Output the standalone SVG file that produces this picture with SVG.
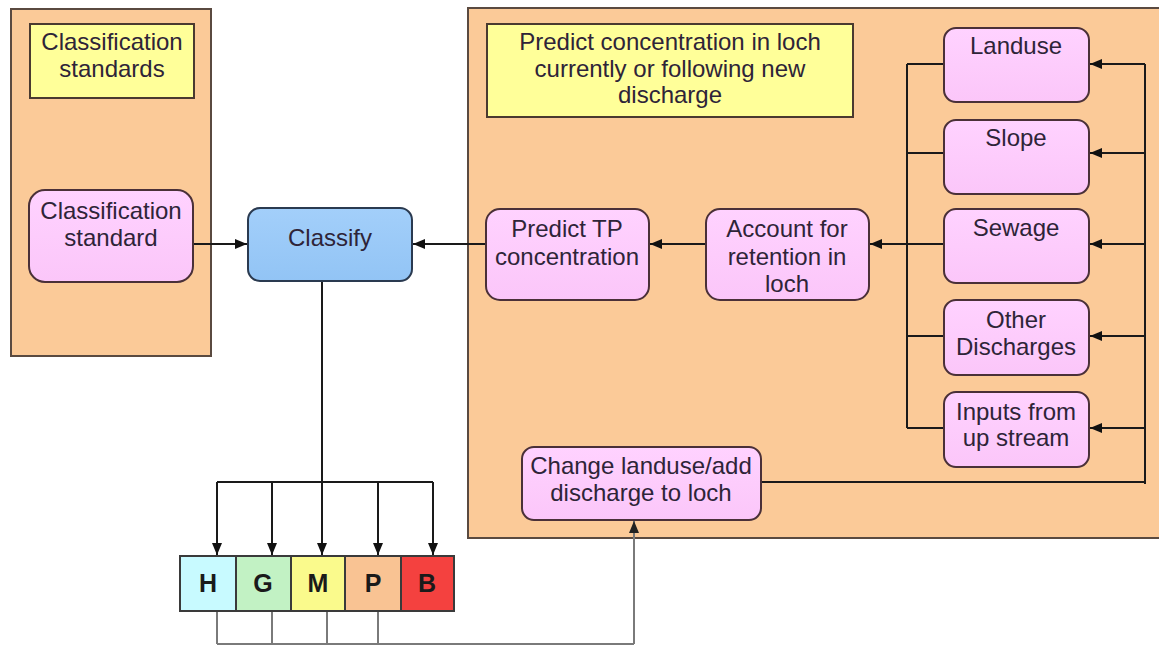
<svg xmlns="http://www.w3.org/2000/svg" width="1159" height="646" viewBox="0 0 1159 646">
<defs>
<style>
.panel{fill:#FBCA98;}
.pborder{fill:none;stroke:#5a4a40;stroke-width:2;}
.note{fill:#FFFF99;stroke:#4a3a30;stroke-width:2;}
.proc{fill:url(#pinkG);stroke:#4a3038;stroke-width:2;}
.cls{fill:url(#blueG);stroke:#2a3a50;stroke-width:2;}
.t{font-family:"Liberation Sans",Arial,sans-serif;font-size:24px;fill:#2e2438;text-anchor:middle;}
.tb{font-family:"Liberation Sans",Arial,sans-serif;font-size:25px;font-weight:bold;fill:#1a1a1a;text-anchor:middle;}
.c{fill:none;stroke:#1a1a1a;stroke-width:2;}
.g{fill:none;stroke:#7a7a7a;stroke-width:2;}
.band{stroke:#3a3a3a;stroke-width:2;}
</style>
<linearGradient id="pinkG" x1="0" y1="0" x2="0" y2="1">
<stop offset="0" stop-color="#FFD2FF"/>
<stop offset="1" stop-color="#FBC6F9"/>
</linearGradient>
<linearGradient id="blueG" x1="0" y1="0" x2="0" y2="1">
<stop offset="0" stop-color="#A3CFFA"/>
<stop offset="1" stop-color="#92C4F5"/>
</linearGradient>
<marker id="ah" viewBox="0 0 12 10" refX="12" refY="5" markerWidth="12" markerHeight="10" markerUnits="userSpaceOnUse" orient="auto">
<path d="M0,0 L12,5 L0,10 z" fill="#111"/>
</marker>
<marker id="ahg" viewBox="0 0 12 10" refX="12" refY="5" markerWidth="12" markerHeight="10" markerUnits="userSpaceOnUse" orient="auto">
<path d="M0,0 L12,5 L0,10 z" fill="#222"/>
</marker>
</defs>
<rect width="1159" height="646" fill="#ffffff"/>

<g id="panel-left">
<rect class="panel" x="11" y="9" width="200" height="347"/>
<rect class="pborder" x="11" y="9" width="200" height="347"/>
</g>
<g id="panel-right">
<rect class="panel" x="468" y="8" width="691" height="530"/>
<path class="pborder" d="M1159,8 H468 V538 H1159"/>
</g>

<g id="connectors">
<line class="c" x1="193" y1="244" x2="247" y2="244" marker-end="url(#ah)"/>
<line class="c" x1="486" y1="244" x2="413" y2="244" marker-end="url(#ah)"/>
<line class="c" x1="706" y1="244" x2="650" y2="244" marker-end="url(#ah)"/>
<path class="c" d="M907,64 V428"/>
<path class="c" d="M907,64 H944 M907,153 H944 M907,244 H944 M907,336 H944 M907,428 H944"/>
<line class="c" x1="907" y1="244" x2="870" y2="244" marker-end="url(#ah)"/>
<path class="c" d="M1145,64 V484"/>
<line class="c" x1="1145" y1="64" x2="1090" y2="64" marker-end="url(#ah)"/>
<line class="c" x1="1145" y1="153" x2="1090" y2="153" marker-end="url(#ah)"/>
<line class="c" x1="1145" y1="244" x2="1090" y2="244" marker-end="url(#ah)"/>
<line class="c" x1="1145" y1="336" x2="1090" y2="336" marker-end="url(#ah)"/>
<line class="c" x1="1145" y1="428" x2="1090" y2="428" marker-end="url(#ah)"/>
<path class="c" d="M761,482 H1145"/>
<path class="c" d="M322,281 V482 M217,482 H433"/>
<line class="c" x1="217" y1="482" x2="217" y2="555" marker-end="url(#ah)"/>
<line class="c" x1="272" y1="482" x2="272" y2="555" marker-end="url(#ah)"/>
<line class="c" x1="322" y1="482" x2="322" y2="555" marker-end="url(#ah)"/>
<line class="c" x1="378" y1="482" x2="378" y2="555" marker-end="url(#ah)"/>
<line class="c" x1="433" y1="482" x2="433" y2="555" marker-end="url(#ah)"/>
<path class="g" d="M217,611 V644 M272,611 V644 M327,611 V644 M378,611 V644 M217,644 H634"/>
<line class="g" x1="634" y1="644" x2="634" y2="521" marker-end="url(#ahg)"/>
</g>

<g id="note-classification-standards">
<rect class="note" x="30" y="24" width="164" height="74"/>
<text class="t" x="112" y="50">Classification</text>
<text class="t" x="112" y="77">standards</text>
</g>
<g id="classification-standard">
<rect class="proc" x="29" y="190" width="164" height="92" rx="16"/>
<text class="t" x="111" y="219">Classification</text>
<text class="t" x="111" y="246">standard</text>
</g>
<g id="classify">
<rect class="cls" x="248" y="208" width="164" height="73" rx="12"/>
<text class="t" x="330" y="246" fill="#1a2a44">Classify</text>
</g>
<g id="note-predict">
<rect class="note" x="487" y="24" width="366" height="93"/>
<text class="t" x="670" y="50">Predict concentration in loch</text>
<text class="t" x="670" y="77">currently or following new</text>
<text class="t" x="670" y="103">discharge</text>
</g>
<g id="predict-tp">
<rect class="proc" x="486" y="209" width="163" height="91" rx="14"/>
<text class="t" x="567" y="237">Predict TP</text>
<text class="t" x="567" y="265">concentration</text>
</g>
<g id="account-retention">
<rect class="proc" x="706" y="209" width="163" height="91" rx="14"/>
<text class="t" x="787" y="237">Account for</text>
<text class="t" x="787" y="265">retention in</text>
<text class="t" x="787" y="292">loch</text>
</g>
<g id="landuse">
<rect class="proc" x="944" y="28" width="145" height="74" rx="12"/>
<text class="t" x="1016" y="54">Landuse</text>
</g>
<g id="slope">
<rect class="proc" x="944" y="120" width="145" height="74" rx="12"/>
<text class="t" x="1016" y="146">Slope</text>
</g>
<g id="sewage">
<rect class="proc" x="944" y="209" width="145" height="74" rx="12"/>
<text class="t" x="1016" y="236">Sewage</text>
</g>
<g id="other-discharges">
<rect class="proc" x="944" y="300" width="145" height="75" rx="12"/>
<text class="t" x="1016" y="328">Other</text>
<text class="t" x="1016" y="355">Discharges</text>
</g>
<g id="inputs-upstream">
<rect class="proc" x="944" y="392" width="145" height="75" rx="12"/>
<text class="t" x="1016" y="420">Inputs from</text>
<text class="t" x="1016" y="446">up stream</text>
</g>
<g id="change-landuse">
<rect class="proc" x="522" y="447" width="239" height="73" rx="12"/>
<text class="t" x="641" y="474">Change landuse/add</text>
<text class="t" x="641" y="501">discharge to loch</text>
</g>
<g id="class-H">
<rect class="band" x="180" y="556" width="56" height="55" fill="#C8FAFF"/>
<text class="tb" x="208" y="592">H</text>
</g>
<g id="class-G">
<rect class="band" x="236" y="556" width="55" height="55" fill="#C2F2C4"/>
<text class="tb" x="263" y="592">G</text>
</g>
<g id="class-M">
<rect class="band" x="291" y="556" width="54" height="55" fill="#FAFA8C"/>
<text class="tb" x="318" y="592">M</text>
</g>
<g id="class-P">
<rect class="band" x="345" y="556" width="56" height="55" fill="#F9C393"/>
<text class="tb" x="373" y="592">P</text>
</g>
<g id="class-B">
<rect class="band" x="401" y="556" width="53" height="55" fill="#F4413F"/>
<text class="tb" x="427" y="592" fill="#3a0a0a">B</text>
</g>
</svg>
